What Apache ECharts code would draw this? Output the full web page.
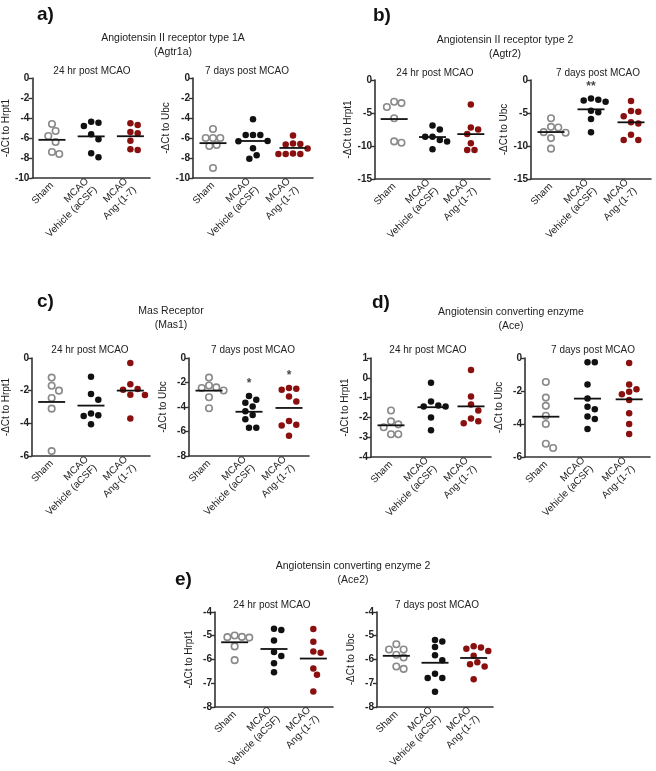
<!DOCTYPE html>
<html>
<head>
<meta charset="utf-8">
<script src="https://cdn.jsdelivr.net/npm/echarts@6/dist/echarts.min.js"></script>
<style>
html,body{margin:0;padding:0;background:#fff;}
#chart{width:656px;height:771px;}
</style>
</head>
<body>
<div id="chart"></div>
<script>
// ---------- data ----------
const categories = ['Sham', 'MCAO\nVehicle (aCSF)', 'MCAO\nAng-(1-7)'];
const groupNames = ['Sham', 'MCAO Vehicle (aCSF)', 'MCAO Ang-(1-7)'];

// a) Agtr1a
const a24Sham = [-4.6, -5.3, -5.8, -6.4, -7.4, -7.6];
const a24Veh  = [-4.37, -4.8, -4.47, -5.63, -6.13, -7.53, -7.93];
const a24Ang  = [-4.53, -4.7, -5.53, -5.4, -6.27, -7.2, -7.13];
const a7Sham  = [-5.1, -6.0, -6.0, -6.0, -6.7, -6.8, -9.0];
const a7Veh   = [-4.13, -5.7, -5.7, -5.7, -6.33, -6.3, -7.03, -8.07, -7.73];
const a7Ang   = [-5.75, -6.6, -6.65, -6.55, -7.05, -7.6, -7.6, -7.6, -7.55];
// b) Agtr2
const b24Sham = [-3.3, -4.1, -3.5, -5.8, -9.5, -9.3];
const b24Veh  = [-6.9, -7.5, -8.6, -8.6, -9.1, -9.3, -10.5];
const b24Ang  = [-3.7, -7.2, -7.5, -8.2, -9.6, -10.6, -10.6];
const b7Sham  = [-5.8, -7.2, -7.1, -8.0, -7.9, -8.8, -10.4];
const b7Veh   = [-2.8, -3.1, -3.3, -3.0, -4.65, -4.9, -5.9, -7.9];
const b7Ang   = [-3.2, -4.7, -4.8, -5.5, -6.4, -6.6, -8.3, -9.1, -9.1];
// c) Mas1
const c24Sham = [-1.2, -1.7, -2.0, -2.45, -3.1, -5.7];
const c24Veh  = [-1.15, -2.2, -2.55, -3.5, -3.55, -3.4, -4.05];
const c24Ang  = [-0.3, -1.6, -1.95, -1.9, -2.27, -2.25, -3.7];
const c7Sham  = [-1.6, -2.25, -2.45, -2.4, -2.65, -3.2, -4.1];
const c7Veh   = [-3.1, -3.4, -3.65, -3.95, -4.35, -4.65, -5.0, -5.7, -5.7];
const c7Ang   = [-2.6, -2.45, -2.5, -3.15, -3.55, -5.45, -5.5, -5.15, -6.35];
// d) Ace
const d24Sham = [-1.65, -2.2, -2.35, -2.5, -2.85, -2.85];
const d24Veh  = [-0.25, -1.2, -1.4, -1.45, -1.45, -2.0, -2.65];
const d24Ang  = [0.4, -0.95, -1.35, -1.65, -2.05, -2.3, -2.2];
const d7Sham  = [-1.45, -2.4, -2.9, -3.5, -4.0, -5.2, -5.45];
const d7Veh   = [-0.25, -0.25, -1.6, -2.45, -2.95, -3.1, -3.55, -3.7, -4.3];
const d7Ang   = [-0.3, -1.6, -2.05, -1.9, -2.2, -2.55, -3.35, -4.0, -4.6];
// e) Ace2
const e24Sham = [-5.05, -5.08, -5.06, -4.99, -5.45, -6.03];
const e24Veh  = [-4.76, -4.71, -5.2, -5.69, -5.86, -6.16, -6.54];
const e24Ang  = [-4.72, -5.25, -5.67, -5.72, -6.38, -6.65, -7.35];
const e7Sham  = [-5.36, -5.58, -5.58, -5.8, -5.92, -6.4, -6.3];
const e7Veh   = [-5.24, -5.18, -5.48, -5.82, -6.03, -6.6, -6.78, -6.78, -7.36];
const e7Ang   = [-5.5, -5.55, -5.44, -5.65, -5.85, -6.2, -6.12, -6.3, -6.84];

// y-axis ranges [min, max, interval]
const yA = [-10, 0, 2], yB = [-15, 0, 5], yC24 = [-6, 0, 2], yC7 = [-8, 0, 2];
const yD24 = [-4, 1, 1], yD7 = [-6, 0, 2], yE = [-8, -4, 1];

// significance marks per group
const starsB7 = ['', '**', ''];
const starsC7 = ['', '*', '*'];

const yName24 = '-\u0394Ct to Hrpt1';
const yName7 = '-\u0394Ct to Ubc';

const titles = [
  { letter: 'a)', title: 'Angiotensin II receptor type 1A', gene: '(Agtr1a)' },
  { letter: 'b)', title: 'Angiotensin II receptor type 2', gene: '(Agtr2)' },
  { letter: 'c)', title: 'Mas Receptor', gene: '(Mas1)' },
  { letter: 'd)', title: 'Angiotensin converting enzyme', gene: '(Ace)' },
  { letter: 'e)', title: 'Angiotensin converting enzyme 2', gene: '(Ace2)' }
];
const sub24 = '24 hr post MCAO';
const sub7 = '7 days post MCAO';

// ---------- layout ----------
const FONT = 'Liberation Sans, Arial, sans-serif';
const plots = [
  { g: [32, 78, 118, 100],  y: yA,   name: yName24, groups: [a24Sham, a24Veh, a24Ang] },
  { g: [193, 78, 120, 100], y: yA,   name: yName7,  groups: [a7Sham, a7Veh, a7Ang] },
  { g: [375, 80, 115, 99],  y: yB,   name: yName24, groups: [b24Sham, b24Veh, b24Ang] },
  { g: [531, 80, 120, 99],  y: yB,   name: yName7,  groups: [b7Sham, b7Veh, b7Ang], stars: starsB7 },
  { g: [32, 358, 118, 98],  y: yC24, name: yName24, groups: [c24Sham, c24Veh, c24Ang] },
  { g: [189, 358, 120, 98], y: yC7,  name: yName7,  groups: [c7Sham, c7Veh, c7Ang], stars: starsC7 },
  { g: [371, 358, 120, 99], y: yD24, name: yName24, groups: [d24Sham, d24Veh, d24Ang] },
  { g: [525, 358, 125, 99], y: yD7,  name: yName7,  groups: [d7Sham, d7Veh, d7Ang] },
  { g: [215, 612, 118, 98], y: yE,   name: yName24, groups: [e24Sham, e24Veh, e24Ang] },
  { g: [377, 612, 116, 98], y: yE,   name: yName7,  groups: [e7Sham, e7Veh, e7Ang] }
];
const titlePos = [
  { lx: 37, ly: 15, tx: 173, ty: 38, s24: [92, 71], s7: [247, 71] },
  { lx: 373, ly: 16, tx: 505, ty: 40, s24: [435, 73], s7: [598, 73] },
  { lx: 37, ly: 302, tx: 171, ty: 311, s24: [90, 350], s7: [253, 350] },
  { lx: 372, ly: 303, tx: 511, ty: 312, s24: [428, 350], s7: [593, 350] },
  { lx: 175, ly: 580, tx: 353, ty: 566, s24: [272, 605], s7: [437, 605] }
];

const DIAM = 6.5;
const styles = [
  { symbol: 'circle', itemStyle: { color: '#fff', borderColor: '#8a8a8a', borderWidth: 1.6, opacity: 1 } },
  { symbol: 'circle', itemStyle: { color: '#111', borderWidth: 0, opacity: 1 } },
  { symbol: 'circle', itemStyle: { color: '#8a1010', borderWidth: 0, opacity: 1 } }
];

// simple beeswarm: spreads points horizontally so they don't overlap
function swarm(vals, pxPerUnit) {
  const order = vals.map((v, i) => i).sort((a, b) => vals[b] - vals[a]);
  const placed = [];
  const offs = new Array(vals.length).fill(0);
  const minD = DIAM + 0.8;
  for (const i of order) {
    const y = vals[i] * pxPerUnit;
    let best = 0;
    for (let k = 0; k < 60; k++) {
      const cand = k === 0 ? 0 : (k % 2 ? 1 : -1) * Math.ceil(k / 2) * minD * 0.5;
      if (placed.every(p => Math.hypot(p.x - cand, p.y - y) >= minD)) { best = cand; break; }
    }
    placed.push({ x: best, y: y });
    offs[i] = best;
  }
  return offs;
}
const mean = arr => arr.reduce((s, v) => s + v, 0) / arr.length;

const grid = [], xAxis = [], yAxis = [], series = [];
plots.forEach((p, pi) => {
  grid.push({ left: p.g[0], top: p.g[1], width: p.g[2], height: p.g[3], containLabel: false });
  xAxis.push({
    type: 'category', gridIndex: pi, data: categories, boundaryGap: true,
    axisLine: { onZero: false, lineStyle: { color: '#333', width: 1.6 } },
    axisTick: { alignWithLabel: true, length: 4, lineStyle: { color: '#333', width: 1.4 } },
    axisLabel: { interval: 0, rotate: 45, fontSize: 10, color: '#222', fontFamily: FONT, margin: 6, lineHeight: 12 },
    splitLine: { show: false }
  });
  yAxis.push({
    type: 'value', gridIndex: pi, min: p.y[0], max: p.y[1], interval: p.y[2],
    name: p.name, nameLocation: 'middle', nameGap: 21, nameRotate: 90,
    nameTextStyle: { fontSize: 10, color: '#222', fontFamily: FONT },
    axisLine: { show: true, lineStyle: { color: '#333', width: 1.6 } },
    axisTick: { show: true, length: 4, lineStyle: { color: '#333', width: 1.4 } },
    axisLabel: { fontSize: 10, fontWeight: 'bold', color: '#222', fontFamily: FONT, margin: 3 },
    splitLine: { show: false }
  });
  const ppu = p.g[3] / (p.y[1] - p.y[0]);
  p.groups.forEach((vals, gi) => {
    const offs = swarm(vals, ppu);
    series.push(Object.assign({
      type: 'scatter', name: groupNames[gi], xAxisIndex: pi, yAxisIndex: pi,
      symbolSize: DIAM, z: 3,
      data: vals.map((v, i) => ({ value: [gi, v], symbolOffset: [offs[i], 0] }))
    }, styles[gi]));
  });
  // mean lines
  series.push({
    type: 'scatter', xAxisIndex: pi, yAxisIndex: pi, symbol: 'rect', symbolSize: [27, 1.8], z: 4,
    itemStyle: { color: '#111', opacity: 1 },
    data: p.groups.map((vals, gi) => [gi, mean(vals)])
  });
  if (p.stars) {
    series.push({
      type: 'scatter', xAxisIndex: pi, yAxisIndex: pi, symbolSize: 0, z: 5,
      data: p.groups.map((vals, gi) => ({ value: [gi, Math.max(...vals)], label: { show: !!p.stars[gi], formatter: p.stars[gi] } })),
      label: { show: true, position: 'top', distance: 6, fontSize: 12, fontWeight: 'bold', color: '#111', fontFamily: FONT }
    });
  }
});

const graphic = [];
titles.forEach((t, i) => {
  const tp = titlePos[i];
  graphic.push({ type: 'text', x: tp.lx, y: tp.ly, style: { text: t.letter, font: 'bold 19px ' + FONT, fill: '#111', textVerticalAlign: 'middle' } });
  graphic.push({ type: 'text', x: tp.tx, y: tp.ty, style: { text: t.title, font: '10.5px ' + FONT, fill: '#222', textAlign: 'center', textVerticalAlign: 'middle' } });
  graphic.push({ type: 'text', x: tp.tx, y: tp.ty + 14, style: { text: t.gene, font: '10.5px ' + FONT, fill: '#222', textAlign: 'center', textVerticalAlign: 'middle' } });
  graphic.push({ type: 'text', x: tp.s24[0], y: tp.s24[1], style: { text: sub24, font: '10px ' + FONT, fill: '#222', textAlign: 'center', textVerticalAlign: 'middle' } });
  graphic.push({ type: 'text', x: tp.s7[0], y: tp.s7[1], style: { text: sub7, font: '10px ' + FONT, fill: '#222', textAlign: 'center', textVerticalAlign: 'middle' } });
});

const chart = echarts.init(document.getElementById('chart'), null, { renderer: 'canvas' });
chart.setOption({
  animation: false,
  backgroundColor: '#fff',
  grid, xAxis, yAxis, series, graphic
});
</script>
</body>
</html>
